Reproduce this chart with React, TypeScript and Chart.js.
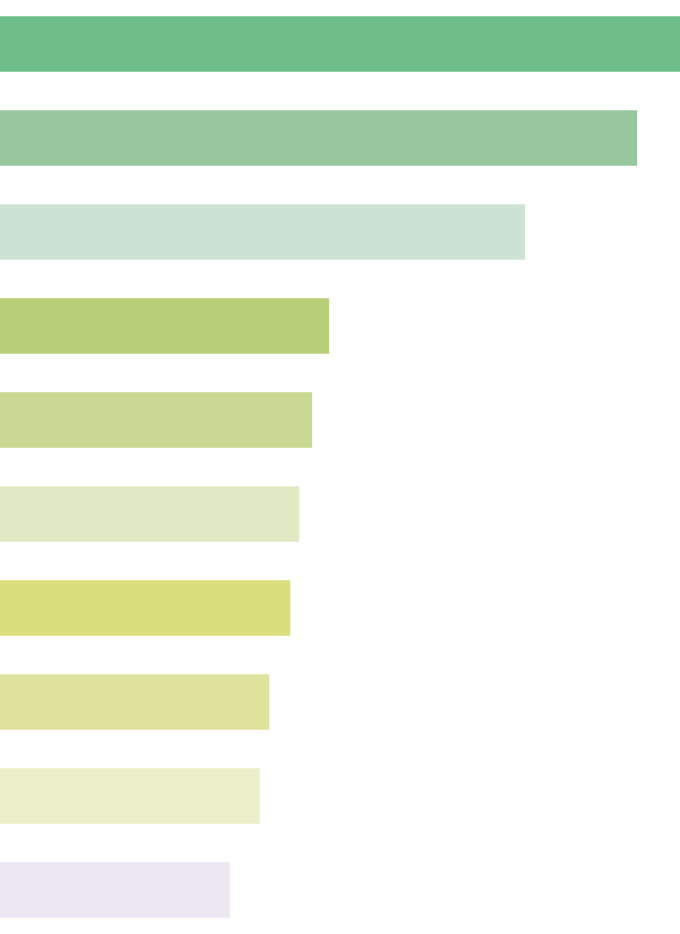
import React, { useEffect, useRef } from "react";
import { Chart, registerables } from "chart.js";

Chart.register(...registerables);

const categories = ["A", "B", "C", "D", "E", "F", "G", "H", "I", "J"];
const values = [100, 93.7, 77.2, 48.4, 45.9, 44.0, 42.7, 39.6, 38.2, 33.8];
const colors = [
  "#6fbd89",
  "#98c79f",
  "#cbe2d4",
  "#b9ce78",
  "#c8d892",
  "#e0e8c4",
  "#d9dd7b",
  "#e0e39d",
  "#ecefca",
  "#ede7f3",
];

export default function App() {
  const ref = useRef<HTMLCanvasElement | null>(null);
  useEffect(() => {
    if (!ref.current) return;
    const chart = new Chart(ref.current, {
      type: "bar",
      data: {
        labels: categories,
        datasets: [
          {
            data: values,
            backgroundColor: colors,
            borderWidth: 0,
            barPercentage: 1,
            categoryPercentage: 0.59,
          },
        ],
      },
      options: {
        indexAxis: "y",
        animation: false,
        responsive: false,
        maintainAspectRatio: false,
        layout: { padding: 0 },
        plugins: { legend: { display: false }, tooltip: { enabled: false } },
        scales: {
          x: { display: false, min: 0, max: 100 },
          y: { display: false },
        },
      },
    });
    return () => chart.destroy();
  }, []);
  return (
    <div style={{ position: "fixed", left: 0, top: -3, width: 680, height: 940, background: "#fff" }}>
      <canvas ref={ref} width={680} height={940} style={{ width: 680, height: 940 }} />
    </div>
  );
}
